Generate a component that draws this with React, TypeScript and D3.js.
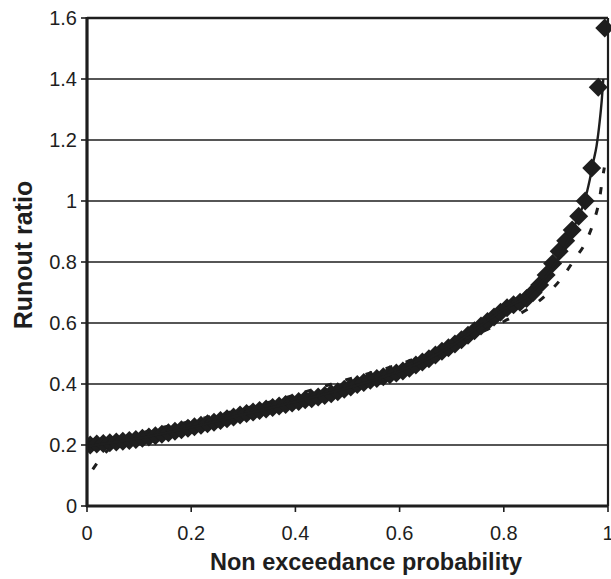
import React from "react";
import * as d3 from "d3";

// Observed runout ratios, sorted ascending (80 events)
const runoutRatios: number[] = [
  0.200, 0.203, 0.205, 0.207, 0.210, 0.212, 0.215, 0.218, 0.222, 0.226,
  0.230, 0.235, 0.240, 0.245, 0.250, 0.255, 0.260, 0.265, 0.270, 0.275,
  0.280, 0.286, 0.292, 0.298, 0.303, 0.308, 0.313, 0.318, 0.323, 0.328,
  0.333, 0.338, 0.343, 0.348, 0.352, 0.357, 0.362, 0.368, 0.375, 0.383,
  0.390, 0.398, 0.405, 0.412, 0.418, 0.424, 0.430, 0.436, 0.443, 0.452,
  0.462, 0.472, 0.483, 0.495, 0.507, 0.519, 0.531, 0.545, 0.560, 0.575,
  0.590, 0.605, 0.620, 0.635, 0.650, 0.660, 0.668, 0.680, 0.700, 0.725,
  0.757, 0.795, 0.835, 0.870, 0.905, 0.950, 1.000, 1.108, 1.373, 1.567,
];

// Fitted distribution (solid line): [non exceedance probability, runout ratio]
const fitSolidP: number[] = [0.0, 0.05, 0.1, 0.2, 0.3, 0.4, 0.5, 0.6, 0.7, 0.75, 0.8, 0.85, 0.88, 0.9, 0.92, 0.94, 0.955, 0.965, 0.972, 0.978, 0.984, 0.988, 0.991];
const fitSolidR: number[] = [0.195, 0.208, 0.222, 0.258, 0.300, 0.342, 0.387, 0.442, 0.525, 0.585, 0.645, 0.695, 0.750, 0.800, 0.860, 0.935, 1.000, 1.070, 1.130, 1.180, 1.260, 1.330, 1.400];

// Alternative fitted distribution (dashed line)
const fitDashP: number[] = [0.011, 0.035, 0.06, 0.1, 0.2, 0.3, 0.36, 0.44, 0.5, 0.6, 0.7, 0.75, 0.8, 0.85, 0.88, 0.91, 0.935, 0.96, 0.973, 0.983, 0.99, 0.993];
const fitDashR: number[] = [0.120, 0.175, 0.205, 0.235, 0.278, 0.318, 0.345, 0.385, 0.415, 0.465, 0.530, 0.565, 0.605, 0.650, 0.690, 0.745, 0.807, 0.875, 0.935, 1.000, 1.080, 1.110];

const xTicks: number[] = [0, 0.2, 0.4, 0.6, 0.8, 1];
const yTicks: number[] = [0, 0.2, 0.4, 0.6, 0.8, 1, 1.2, 1.4, 1.6];

const W = 611;
const H = 579;
const left = 87;
const right = 608;
const top = 18;
const bottom = 506;

const ink = "#1e1e1e";
const font = "'Liberation Sans', Arial, sans-serif";

export default function App() {
  const x = d3.scaleLinear().domain([0, 1]).range([left, right]);
  const y = d3.scaleLinear().domain([0, 1.6]).range([bottom, top]);

  const n = runoutRatios.length;
  const points = runoutRatios.map((r, i) => ({ p: (i + 0.5) / n, r }));

  const line = d3
    .line<[number, number]>()
    .x((d) => x(d[0]))
    .y((d) => y(d[1]))
    .curve(d3.curveMonotoneX);

  const solid = line(fitSolidP.map((p, i) => [p, fitSolidR[i]] as [number, number])) || "";
  const dashed = line(fitDashP.map((p, i) => [p, fitDashR[i]] as [number, number])) || "";

  const half = 9.5;
  const diamond = `M0,${-half}L${half},0L0,${half}L${-half},0Z`;

  return (
    <svg
      width={W}
      height={H}
      style={{ position: "absolute", left: 0, top: 0, background: "#fff" }}
      fontFamily={font}
    >
      <defs>
        <clipPath id="plotClip">
          <rect x={left} y={top - 12} width={right - left + 10} height={bottom - top + 12} />
        </clipPath>
      </defs>

      {/* horizontal gridlines */}
      {yTicks.map((t) => (
        <line key={`g${t}`} x1={left} x2={right} y1={y(t)} y2={y(t)} stroke={ink} strokeWidth={1.6} />
      ))}

      {/* series */}
      <g clipPath="url(#plotClip)">
        {points.map((d, i) => (
          <path key={i} d={diamond} transform={`translate(${x(d.p)},${y(d.r)})`} fill={ink} />
        ))}
        <path d={dashed} fill="none" stroke={ink} strokeWidth={3} strokeDasharray="7 14" />
        <path d={solid} fill="none" stroke={ink} strokeWidth={2.4} />
      </g>

      {/* plot frame */}
      <line x1={left} x2={right} y1={top} y2={top} stroke={ink} strokeWidth={2.6} />
      <line x1={right} x2={right} y1={top} y2={bottom} stroke={ink} strokeWidth={2.2} />
      <line x1={left} x2={left} y1={top - 1} y2={bottom + 1} stroke={ink} strokeWidth={3.2} />
      <line x1={left - 1} x2={right} y1={bottom} y2={bottom} stroke={ink} strokeWidth={3.2} />

      {/* y axis ticks and labels */}
      {yTicks.map((t) => (
        <g key={`y${t}`}>
          <line x1={left - 6} x2={left} y1={y(t)} y2={y(t)} stroke={ink} strokeWidth={1.6} />
          <text x={77} y={y(t)} dy="0.36em" textAnchor="end" fontSize={20} fill={ink}>
            {String(t)}
          </text>
        </g>
      ))}

      {/* x axis ticks and labels */}
      {xTicks.map((t) => (
        <g key={`x${t}`}>
          <line x1={x(t)} x2={x(t)} y1={bottom} y2={bottom + 6} stroke={ink} strokeWidth={1.6} />
          <text x={x(t)} y={540} textAnchor="middle" fontSize={20} fill={ink}>
            {String(t)}
          </text>
        </g>
      ))}

      {/* axis titles */}
      <text x={366} y={570} textAnchor="middle" fontSize={23.5} fontWeight="bold" fill={ink}>
        Non exceedance probability
      </text>
      <text
        transform={`translate(32,255) rotate(-90)`}
        textAnchor="middle"
        fontSize={25}
        fontWeight="bold"
        fill={ink}
      >
        Runout ratio
      </text>
    </svg>
  );
}
